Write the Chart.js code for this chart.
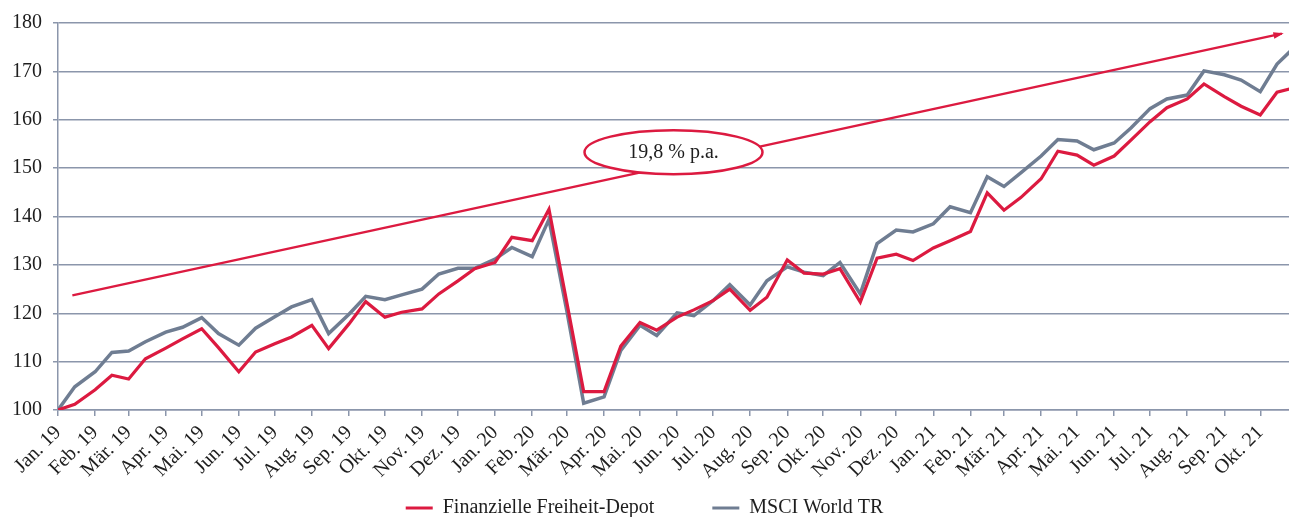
<!DOCTYPE html>
<html lang="de">
<head>
<meta charset="UTF-8">
<title>Finanzielle Freiheit-Depot vs. MSCI World TR</title>
<script src="https://cdn.jsdelivr.net/npm/chart.js"></script>
<style>
    body {
        margin: 0;
        background: #fff;
        overflow: hidden;
    }
    .wrap {
        position: relative;
        width: 1289px;
        height: 517px;
    }
</style>
</head>
<body>
<div class="wrap">
    <canvas id="chart"></canvas>
</div>
<script>
// month tick labels (one per month start)
const monthLabels = [
    'Jan. 19', 'Feb. 19', 'Mär. 19', 'Apr. 19', 'Mai. 19', 'Jun. 19', 'Jul. 19', 'Aug. 19', 'Sep. 19', 'Okt. 19', 'Nov. 19', 'Dez. 19',
    'Jan. 20', 'Feb. 20', 'Mär. 20', 'Apr. 20', 'Mai. 20', 'Jun. 20', 'Jul. 20', 'Aug. 20', 'Sep. 20', 'Okt. 20', 'Nov. 20', 'Dez. 20',
    'Jan. 21', 'Feb. 21', 'Mär. 21', 'Apr. 21', 'Mai. 21', 'Jun. 21', 'Jul. 21', 'Aug. 21', 'Sep. 21', 'Okt. 21'
];
const monthStarts = [
    '2019-01-01', '2019-02-01', '2019-03-01', '2019-04-01', '2019-05-01', '2019-06-01', '2019-07-01', '2019-08-01', '2019-09-01', '2019-10-01', '2019-11-01', '2019-12-01',
    '2020-01-01', '2020-02-01', '2020-03-01', '2020-04-01', '2020-05-01', '2020-06-01', '2020-07-01', '2020-08-01', '2020-09-01', '2020-10-01', '2020-11-01', '2020-12-01',
    '2021-01-01', '2021-02-01', '2021-03-01', '2021-04-01', '2021-05-01', '2021-06-01', '2021-07-01', '2021-08-01', '2021-09-01', '2021-10-01'
];

// semi-monthly valuation dates
const dates = [
    '2019-01-01', '2019-01-15', '2019-02-01', '2019-02-15', '2019-03-01', '2019-03-15', '2019-04-01', '2019-04-15',
    '2019-05-01', '2019-05-15', '2019-06-01', '2019-06-15', '2019-07-01', '2019-07-15', '2019-08-01', '2019-08-15',
    '2019-09-01', '2019-09-15', '2019-10-01', '2019-10-15', '2019-11-01', '2019-11-15', '2019-12-01', '2019-12-15',
    '2020-01-01', '2020-01-15', '2020-02-01', '2020-02-15', '2020-03-01', '2020-03-15', '2020-04-01', '2020-04-15',
    '2020-05-01', '2020-05-15', '2020-06-01', '2020-06-15', '2020-07-01', '2020-07-15', '2020-08-01', '2020-08-15',
    '2020-09-01', '2020-09-15', '2020-10-01', '2020-10-15', '2020-11-01', '2020-11-15', '2020-12-01', '2020-12-15',
    '2021-01-01', '2021-01-15', '2021-02-01', '2021-02-15', '2021-03-01', '2021-03-15', '2021-04-01', '2021-04-15',
    '2021-05-01', '2021-05-15', '2021-06-01', '2021-06-15', '2021-07-01', '2021-07-15', '2021-08-01', '2021-08-15',
    '2021-09-01', '2021-09-15', '2021-10-01', '2021-10-15', '2021-11-01'
];

const depot = [
    100.0, 101.2, 104.2, 107.2, 106.4, 110.6, 112.8, 114.7,
    116.8, 112.9, 107.9, 112.0, 113.7, 115.1, 117.5, 112.7,
    117.8, 122.4, 119.2, 120.2, 120.9, 124.0, 126.7, 129.2,
    130.5, 135.7, 135.0, 141.5, 122.1, 103.8, 103.8, 113.2,
    118.1, 116.5, 119.2, 120.7, 122.6, 125.0, 120.6, 123.3,
    131.0, 128.3, 128.1, 129.2, 122.3, 131.4, 132.2, 130.9,
    133.5, 135.0, 136.9, 144.9, 141.3, 143.9, 147.8, 153.5,
    152.7, 150.6, 152.5, 155.8, 159.6, 162.5, 164.3, 167.4,
    164.8, 162.8, 161.0, 165.7, 166.8
];

const msciWorld = [
    100.0, 104.8, 107.9, 111.9, 112.2, 114.1, 116.1, 117.1,
    119.1, 115.8, 113.4, 116.9, 119.3, 121.3, 122.8, 115.8,
    119.8, 123.5, 122.8, 123.8, 125.0, 128.1, 129.3, 129.3,
    131.2, 133.6, 131.7, 139.4, 120.4, 101.4, 102.7, 112.3,
    117.5, 115.4, 120.1, 119.5, 122.6, 125.9, 121.7, 126.7,
    129.6, 128.5, 127.8, 130.5, 124.0, 134.4, 137.2, 136.8,
    138.5, 142.0, 140.8, 148.2, 146.2, 149.0, 152.5, 155.9,
    155.6, 153.8, 155.2, 158.3, 162.3, 164.3, 165.1, 170.1,
    169.3, 168.2, 165.8, 171.5, 175.6
];

// trend arrow (19,8 % p.a.)
const trendDates = ['2019-01-13', '2021-10-19'];
const trendValues = [123.7, 177.8];
const trendLabel = '19,8 % p.a.';
const trendLabelDate = '2020-05-29';
const trendLabelValue = 153.3;

const yTicks = [100, 110, 120, 130, 140, 150, 160, 170, 180];
const xEnd = '2021-10-25';

const RED = '#dc1a40';
const GREY = '#6f7d92';
const GRID = '#8b96ab';
const TEXT = '#1e1e1e';
const FONT = "'Liberation Serif', 'DejaVu Serif', serif";

// days since 1 Jan 2019
const t0 = Date.parse('2019-01-01');
const day = s => (Date.parse(s) - t0) / 86400000;

const toPoints = (xs, ys) => xs.map((d, i) => ({ x: day(d), y: ys[i] }));

const ellipseAndArrow = {
    id: 'ellipseAndArrow',
    afterDatasetsDraw(chart) {
        const { ctx, scales: { x, y } } = chart;
        const pts = chart.getDatasetMeta(2).data;
        const a = pts[0], b = pts[1];
        const ang = Math.atan2(b.y - a.y, b.x - a.x);
        ctx.save();
        // arrow head
        ctx.fillStyle = RED;
        ctx.beginPath();
        ctx.moveTo(b.x + 2 * Math.cos(ang), b.y + 2 * Math.sin(ang));
        ctx.lineTo(b.x - 9 * Math.cos(ang - 0.38), b.y - 9 * Math.sin(ang - 0.38));
        ctx.lineTo(b.x - 9 * Math.cos(ang + 0.38), b.y - 9 * Math.sin(ang + 0.38));
        ctx.closePath();
        ctx.fill();

        // label ellipse
        const cx = x.getPixelForValue(day(trendLabelDate));
        const cy = y.getPixelForValue(trendLabelValue);
        ctx.beginPath();
        ctx.ellipse(cx, cy, 89, 22, 0, 0, Math.PI * 2);
        ctx.fillStyle = '#fff';
        ctx.fill();
        ctx.lineWidth = 2.5;
        ctx.strokeStyle = RED;
        ctx.stroke();
        ctx.fillStyle = TEXT;
        ctx.font = '20px ' + FONT;
        ctx.textAlign = 'center';
        ctx.textBaseline = 'middle';
        ctx.fillText(trendLabel, cx, cy + 1);
        ctx.restore();
    }
};

Chart.defaults.font.family = FONT;
Chart.defaults.font.size = 20;
Chart.defaults.color = TEXT;

new Chart(document.getElementById('chart'), {
    type: 'line',
    data: {
        datasets: [
            {
                label: 'Finanzielle Freiheit-Depot',
                data: toPoints(dates, depot),
                borderColor: RED,
                backgroundColor: RED,
                borderWidth: 3.2,
                pointRadius: 0,
                tension: 0
            },
            {
                label: 'MSCI World TR',
                data: toPoints(dates, msciWorld),
                borderColor: GREY,
                backgroundColor: GREY,
                borderWidth: 3.5,
                pointRadius: 0,
                tension: 0
            },
            {
                label: 'Trend',
                data: toPoints(trendDates, trendValues),
                borderColor: RED,
                borderWidth: 2.5,
                pointRadius: 0,
                tension: 0
            }
        ]
    },
    options: {
        responsive: true,
        maintainAspectRatio: false,
        animation: false,
        layout: {
            padding: { top: 22, right: 0, left: 0, bottom: -11 }
        },
        scales: {
            x: {
                type: 'linear',
                min: 0,
                max: day(xEnd),
                afterBuildTicks(scale) {
                    scale.ticks = monthStarts.map(s => ({ value: day(s) }));
                },
                afterFit(scale) {
                    scale.height = 70;
                    scale.paddingLeft = 0;
                    scale.paddingRight = 0;
                },
                ticks: {
                    autoSkip: false,
                    maxRotation: 45,
                    minRotation: 45,
                    padding: 5,
                    callback: (v, i) => monthLabels[i]
                },
                grid: {
                    drawOnChartArea: false,
                    drawTicks: true,
                    tickLength: 6,
                    color: GRID,
                    lineWidth: 1.5
                },
                border: { display: true, color: GRID, width: 1.5 }
            },
            y: {
                min: 100,
                max: 180,
                afterBuildTicks(scale) {
                    scale.ticks = yTicks.map(v => ({ value: v }));
                },
                afterFit(scale) {
                    scale.width = 58;
                },
                ticks: {
                    padding: 11
                },
                grid: {
                    color: GRID,
                    lineWidth: 1.5,
                    tickLength: 5
                },
                border: { display: true, color: GRID, width: 1.5 }
            }
        },
        plugins: {
            legend: {
                position: 'bottom',
                labels: {
                    boxWidth: 27,
                    boxHeight: 3,
                    padding: 18,
                    font: { size: 20 },
                    generateLabels(chart) {
                        return Chart.defaults.plugins.legend.labels.generateLabels(chart)
                            .filter(l => l.datasetIndex !== 2)
                            .map(l => Object.assign(l, {
                                lineWidth: 0,
                                // extra room after the first entry, as in the original legend
                                text: l.datasetIndex === 0 ? l.text + '        ' : l.text
                            }));
                    }
                }
            },
            tooltip: { enabled: false }
        }
    },
    plugins: [ellipseAndArrow]
});
</script>
</body>
</html>
